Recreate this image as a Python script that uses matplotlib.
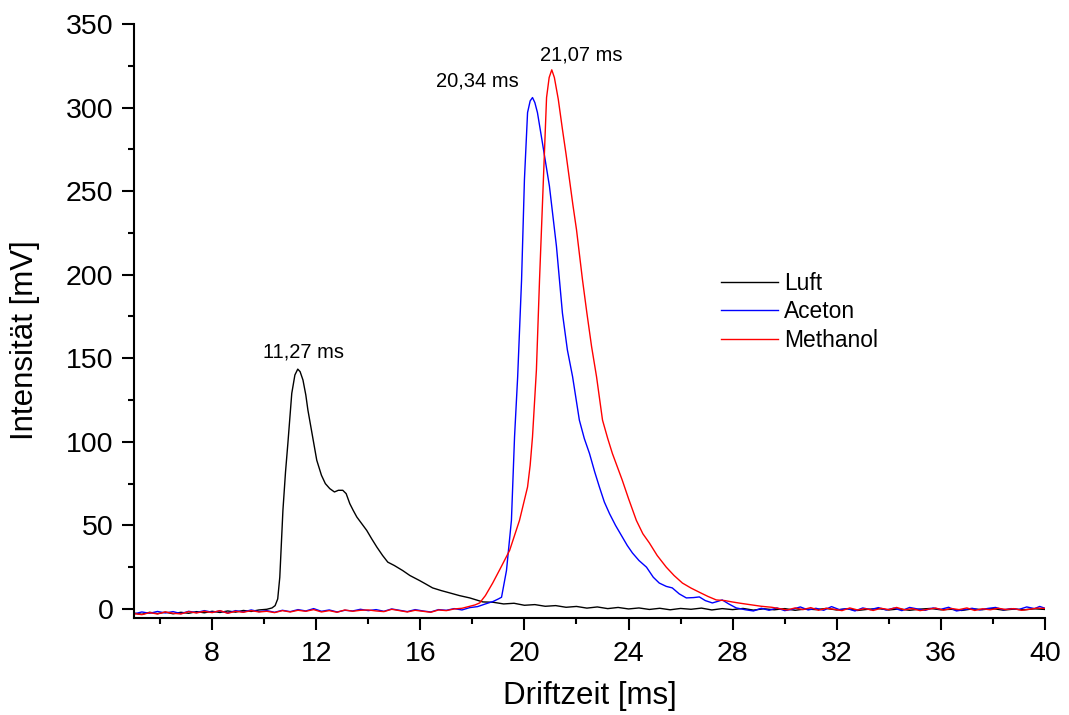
import matplotlib
matplotlib.use("Agg")
import matplotlib.pyplot as plt
from matplotlib.ticker import MultipleLocator

plt.rcParams["font.family"] = ["Liberation Sans", "DejaVu Sans"]

# Luft
luft_t = [5.0, 5.3, 5.6, 5.9, 6.2, 6.5, 6.8, 7.1, 7.4, 7.7,
          8.0, 8.3, 8.6, 8.9, 9.2, 9.5, 9.8, 10.1, 10.3, 10.42,
          10.52, 10.6, 10.72, 10.82, 10.91, 11.06, 11.18, 11.29, 11.38, 11.49,
          11.6, 11.68, 11.85, 12.02, 12.2, 12.35, 12.52, 12.7, 12.85, 13.02,
          13.15, 13.29, 13.42, 13.56, 13.75, 13.94, 14.13, 14.33, 14.55, 14.75,
          15.0, 15.32, 15.6, 15.97, 16.2, 16.47, 16.8, 17.13, 17.5, 17.9,
          18.4, 18.8, 19.2, 19.6, 20.0, 20.4, 20.8, 21.2, 21.6, 22.0,
          22.4, 22.8, 23.2, 23.6, 24.0, 24.4, 24.8, 25.2, 25.6, 26.0,
          26.4, 26.8, 27.2, 27.6, 28.0, 28.4, 28.8, 29.2, 29.6, 30.0,
          30.4, 30.8, 31.2, 31.6, 32.0, 32.4, 32.8, 33.2, 33.6, 34.0,
          34.4, 34.8, 35.2, 35.6, 36.0, 36.4, 36.8, 37.2, 37.6, 38.0,
          38.4, 38.8, 39.2, 39.6, 40.0]
luft_mv = [-2.5, -3.2, -2.0, -2.8, -1.9, -2.9, -2.0, -2.6, -1.6, -2.3,
           -1.4, -2.1, -1.2, -1.9, -0.9, -1.5, -0.6, -0.2, 0.6, 2.0,
           6.0, 19, 59, 82, 99, 129, 140, 143.5, 142, 137,
           128, 119, 104, 89, 80, 75, 72, 70, 71, 71,
           69, 63, 59, 55, 51, 47, 42, 37, 32, 28,
           26, 23, 20, 17, 15, 12.6, 11, 9.6, 8.0, 6.6,
           4.2, 4.0, 3.0, 3.4, 2.2, 2.6, 1.6, 2.0, 1.0, 1.5,
           0.5, 1.2, 0.2, 0.9, 0.0, 0.6, -0.3, 0.4, -0.5, 0.3,
           -0.2, 0.5, -0.6, 0.2, -0.4, 0.3, -0.7, 0.1, -0.5, 0.2,
           -0.8, 0.0, -0.4, 0.3, -0.6, 0.1, -0.9, -0.2, 0.2, -0.6,
           0.0, -0.8, -0.1, 0.3, -0.5, -0.2, -0.9, 0.0, -0.4, 0.2,
           -0.7, -0.1, -0.5, 0.1, -0.3]

# Aceton
aceton_t = [5.0, 5.3, 5.6, 5.9, 6.2, 6.5, 6.8, 7.1, 7.4, 7.7,
            8.0, 8.3, 8.6, 8.9, 9.2, 9.5, 9.8, 10.1, 10.4, 10.7,
            11.0, 11.3, 11.6, 11.9, 12.2, 12.5, 12.8, 13.1, 13.4, 13.7,
            14.0, 14.3, 14.6, 14.9, 15.2, 15.5, 15.8, 16.1, 16.4, 16.7,
            17.0, 17.3, 17.6, 17.9, 18.2, 18.5, 18.8, 19.0, 19.12, 19.31,
            19.5, 19.62, 19.74, 19.89, 20.0, 20.12, 20.22, 20.31, 20.4, 20.5,
            20.69, 20.96, 21.23, 21.46, 21.65, 21.85, 22.11, 22.3, 22.5, 22.7,
            22.88, 23.07, 23.27, 23.5, 23.76, 23.95, 24.15, 24.4, 24.69, 24.95,
            25.18, 25.45, 25.68, 25.95, 26.22, 26.5, 26.72, 26.95, 27.22, 27.4,
            27.6, 27.85, 28.14, 28.5, 28.8, 29.1, 29.4, 29.7, 30.0, 30.3,
            30.6, 30.9, 31.2, 31.5, 31.8, 32.1, 32.4, 32.7, 33.0, 33.3,
            33.6, 33.9, 34.2, 34.5, 34.8, 35.1, 35.4, 35.7, 36.0, 36.3,
            36.6, 36.9, 37.2, 37.5, 37.8, 38.1, 38.4, 38.7, 39.0, 39.3,
            39.6, 39.8, 40.0]
aceton_mv = [-3.0, -1.8, -2.6, -1.5, -2.4, -1.6, -2.8, -1.4, -2.2, -1.0,
             -2.0, -1.2, -2.4, -1.0, -1.8, -0.6, -1.6, -1.0, -2.0, -0.8,
             -1.6, -0.4, -1.2, 0.2, -1.4, -0.6, -1.8, -0.8, -1.2, -0.2,
             -1.0, -0.4, -1.4, 0.0, -0.8, -1.6, -0.4, -1.2, -1.8, -0.4,
             -0.8, 0.2, -0.6, 0.8, 1.4, 3.0, 4.5, 6.0, 7.0, 23,
             53, 103, 139, 197, 257, 297, 304, 306, 303, 297,
             279, 253, 217, 177, 155, 139, 113, 102, 93, 82,
             73, 64, 57, 50, 43, 38, 33.5, 29, 25, 19,
             15.5, 13.5, 12.6, 9, 6.6, 6.8, 7.2, 5.0, 3.6, 4.4,
             5.4, 3.0, 0.6, -0.5, -1.2, 0.4, -0.8, 0.6, -1.0, -0.2,
             1.2, -0.6, 0.4, -0.8, 1.4, -0.4, 0.2, -1.2, 0.6, -0.4,
             0.8, -0.6, 0.5, -1.0, 0.9, 0.0, -0.8, 0.6, -0.2, 1.0,
             -1.2, -0.4, 0.4, -0.6, 0.3, 0.9, -0.5, 0.2, -0.3, 1.2,
             0.2, 1.5, 0.4]

# Methanol
methanol_t = [5.0, 5.3, 5.6, 5.9, 6.2, 6.5, 6.8, 7.1, 7.4, 7.7,
              8.0, 8.3, 8.6, 8.9, 9.2, 9.5, 9.8, 10.1, 10.4, 10.7,
              11.0, 11.3, 11.6, 11.9, 12.2, 12.5, 12.8, 13.1, 13.4, 13.7,
              14.0, 14.3, 14.6, 14.9, 15.2, 15.5, 15.8, 16.1, 16.4, 16.7,
              17.0, 17.3, 17.6, 17.9, 18.1, 18.28, 18.5, 18.78, 19.1, 19.43,
              19.81, 20.12, 20.22, 20.31, 20.46, 20.58, 20.7, 20.85, 20.95, 21.05,
              21.15, 21.3, 21.46, 21.6, 21.73, 21.86, 22.0, 22.23, 22.4, 22.58,
              22.77, 23.0, 23.2, 23.38, 23.57, 23.76, 24.0, 24.3, 24.55, 24.8,
              25.1, 25.45, 25.75, 26.07, 26.4, 26.72, 27.05, 27.37, 27.7, 27.98,
              28.3, 28.75, 29.1, 29.5, 29.8, 30.1, 30.4, 30.7, 31.0, 31.3,
              31.6, 31.9, 32.2, 32.5, 32.8, 33.1, 33.4, 33.7, 34.0, 34.3,
              34.6, 34.9, 35.2, 35.5, 35.8, 36.1, 36.4, 36.7, 37.0, 37.3,
              37.6, 37.9, 38.2, 38.5, 38.8, 39.1, 39.4, 39.7, 40.0]
methanol_mv = [-2.8, -3.4, -2.2, -3.0, -1.8, -2.6, -3.0, -1.6, -2.4, -1.4,
               -2.2, -1.0, -2.6, -1.4, -2.0, -1.0, -1.8, -1.4, -2.2, -1.0,
               -1.8, -0.8, -1.4, -0.4, -1.8, -1.0, -2.0, -0.6, -1.4, -0.8,
               -0.6, -1.2, -1.6, -0.2, -1.0, -1.8, -0.8, -1.4, -2.0, -0.6,
               -1.0, 0.0, 0.4, 1.6, 2.4, 3.6, 8.0, 15.5, 25, 35,
               53, 73, 86, 103, 143, 197, 245, 306, 318, 322.6,
               318, 305, 287, 272, 257, 242, 227, 197, 177, 157,
               139, 113, 102, 93, 85, 77, 66, 53, 45, 39.5,
               32, 25, 20, 15.5, 12.5, 10, 7.5, 5.4, 5.0, 4.2,
               3.4, 2.4, 1.6, 1.0, 0.2, -0.6, 0.6, -0.4, 0.8, -0.8,
               0.4, -0.2, -1.0, 0.6, -0.6, 0.2, -0.9, 0.4, -0.4, 0.9,
               -0.5, 0.2, -1.0, -0.2, 0.5, -0.7, 0.3, -0.4, 0.6, -0.9,
               0.1, -0.5, 0.4, -0.3, 0.2, -0.8, -0.2, 0.5, 0.3]

# peak labels
peak_labels = ["11,27 ms", "20,34 ms", "21,07 ms"]
peak_label_x = [11.5, 18.2, 22.2]
peak_label_y = [148, 310, 326]

fig = plt.figure(figsize=(10.69, 7.15), dpi=100)
ax = fig.add_axes([0.1254, 0.1357, 0.8521, 0.8307])

ax.plot(luft_t, luft_mv, color="black", lw=1.0, label="Luft")
ax.plot(aceton_t, aceton_mv, color="blue", lw=1.0, label="Aceton")
ax.plot(methanol_t, methanol_mv, color="red", lw=1.0, label="Methanol")

for txt, x, y in zip(peak_labels, peak_label_x, peak_label_y):
    ax.text(x, y, txt, ha="center", va="bottom", fontsize=14.5)

ax.set_xlim(5, 40)
ax.set_ylim(-5.4, 350)
ax.xaxis.set_major_locator(MultipleLocator(4))
ax.xaxis.set_minor_locator(MultipleLocator(2))
ax.yaxis.set_major_locator(MultipleLocator(50))
ax.yaxis.set_minor_locator(MultipleLocator(25))
ax.set_xticks([8, 12, 16, 20, 24, 28, 32, 36, 40])

ax.spines["top"].set_visible(False)
ax.spines["right"].set_visible(False)
ax.spines["left"].set_linewidth(1.5)
ax.spines["bottom"].set_linewidth(1.5)
ax.tick_params(which="major", direction="out", length=8.4, width=1.5, labelsize=20.5)
ax.tick_params(axis="x", which="major", pad=8.5)
ax.tick_params(axis="y", which="major", pad=6.5)
ax.tick_params(which="minor", direction="out", length=4, width=1.5)

ax.set_xlabel("Driftzeit [ms]", fontsize=22.5, labelpad=10)
ax.set_ylabel("Intensität [mV]", fontsize=22.5)
ax.yaxis.set_label_coords(-0.103, 0.468)

ax.legend(loc="upper left", bbox_to_anchor=(0.644, 0.583), frameon=False,
          fontsize=16.4, handlelength=2.5, handletextpad=0.3, labelspacing=0.25,
          borderpad=0, borderaxespad=0)

fig.savefig("out.png", dpi=100)
